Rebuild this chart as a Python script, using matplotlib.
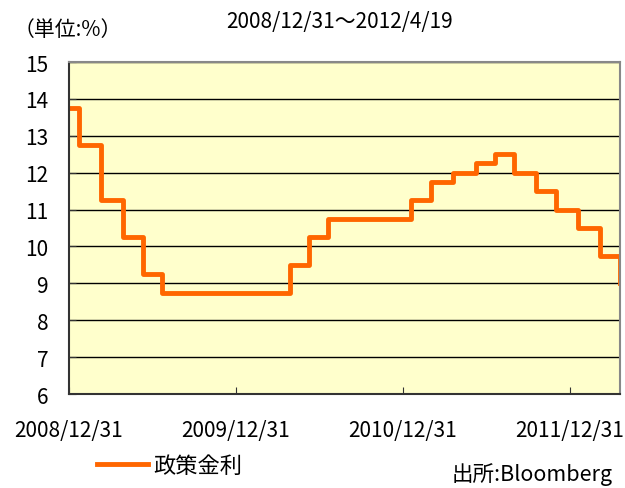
import pandas as pd
import matplotlib.pyplot as plt

plt.rcParams['font.family'] = ['Noto Sans CJK JP', 'DejaVu Sans']

# 政策金利の変更日と水準 (%)
change_dates = ['2008-12-31', '2009-01-21', '2009-03-11', '2009-04-29', '2009-06-10',
                '2009-07-22', '2010-04-28', '2010-06-09', '2010-07-21', '2011-01-19',
                '2011-03-02', '2011-04-20', '2011-06-08', '2011-07-20', '2011-08-31',
                '2011-10-19', '2011-11-30', '2012-01-18', '2012-03-07', '2012-04-18',
                '2012-04-19']
rates = [13.75, 12.75, 11.25, 10.25, 9.25, 8.75, 9.50, 10.25, 10.75, 11.25,
         11.75, 12.00, 12.25, 12.50, 12.00, 11.50, 11.00, 10.50, 9.75, 9.00, 9.00]
x_ticks = ['2008-12-31', '2009-12-31', '2010-12-31', '2011-12-31']
x_ticklabels = ['2008/12/31', '2009/12/31', '2010/12/31', '2011/12/31']
y_ticks = list(range(6, 16))

dates = pd.to_datetime(change_dates)

fig = plt.figure(figsize=(6.25, 4.89), dpi=100)
ax = fig.add_axes([69 / 625, 1 - 395 / 489, 551 / 625, 332 / 489])
ax.set_facecolor('#FFFFCC')

ax.step(dates, rates, where='post', color='#FF6600', linewidth=3.5, label='政策金利')

ax.set_xlim(pd.Timestamp('2008-12-31'), pd.Timestamp('2012-04-19'))
ax.set_ylim(6, 15)
ax.set_yticks(y_ticks)
ax.set_xticks(pd.to_datetime(x_ticks))
ax.set_xticklabels(x_ticklabels)
ax.yaxis.grid(True, color='black', linewidth=1)
ax.set_axisbelow(True)
ax.tick_params(axis='both', direction='in', length=5, labelsize=15, color='#333333')
ax.tick_params(axis='x', pad=18)
ax.tick_params(axis='y', pad=15)

for side in ['left', 'bottom']:
    ax.spines[side].set_color('#333333')
    ax.spines[side].set_linewidth(1.5)
for side in ['top', 'right']:
    ax.spines[side].set_color('#888888')
    ax.spines[side].set_linewidth(1.5)

fig.text(14 / 625, 1 - 30 / 489, '（単位:%）', fontsize=15, va='center', ha='left')
fig.text(340 / 625, 1 - 22 / 489, '2008/12/31〜2012/4/19', fontsize=15, va='center', ha='center')
fig.text(613 / 625, 1 - 475 / 489, '出所:Bloomberg', fontsize=15.5, va='center', ha='right')

fig.legend(loc='center left', bbox_to_anchor=(97 / 625, 1 - 466 / 489), frameon=False,
           fontsize=16, handlelength=2.3, handletextpad=0.25, borderpad=0, borderaxespad=0)

fig.savefig('out.png', dpi=100)
